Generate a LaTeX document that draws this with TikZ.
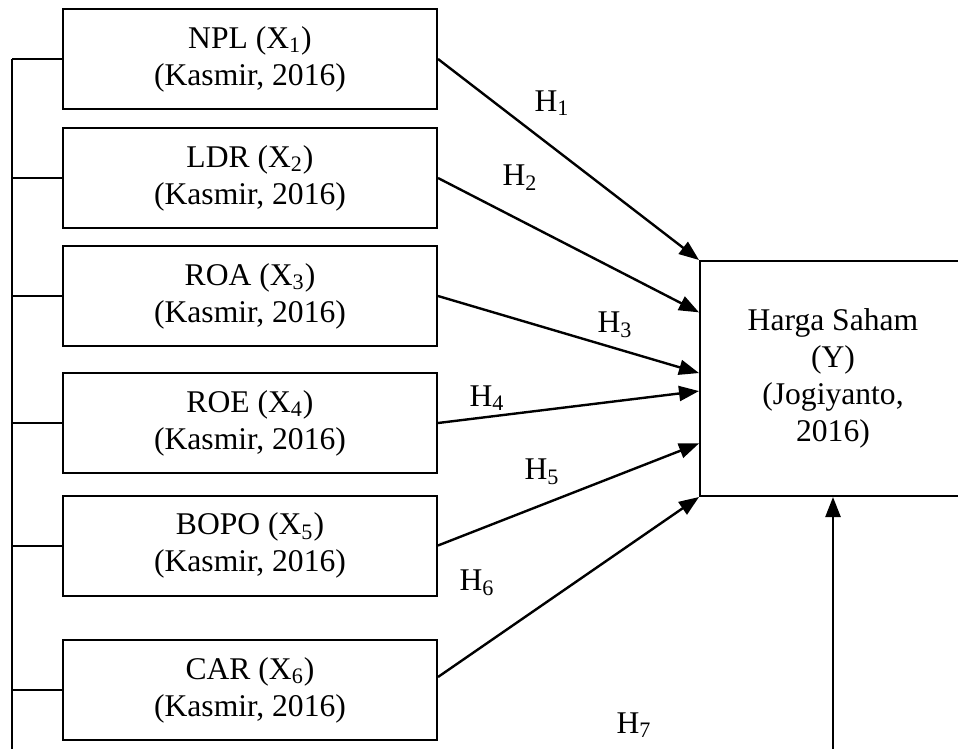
\documentclass[tikz,border=0pt]{standalone}
\usepackage{fontspec}
\setmainfont{Liberation Serif}
\usepackage{tikz}
\usetikzlibrary{arrows.meta,calc}

\tikzset{
	varbox/.style={draw, line width=1pt, minimum width=187pt, minimum height=50pt, inner sep=0pt, align=center, font=\fontsize{15.8}{18.5}\selectfont},
	ybox/.style={varbox, minimum width=133pt, minimum height=117.5pt},
	hyp/.style={line width=1.2pt, -{Triangle[length=10pt,width=7.5pt]}},
	hlabel/.style={inner sep=0pt, font=\fontsize{15.8}{18.5}\selectfont}
}

\begin{document}
\begin{tikzpicture}[x=0.5pt,y=-0.5pt]

\useasboundingbox (0,0) rectangle (958,749);
\clip (0,0) rectangle (958,749);

\node[varbox] (npl)  at (250,  59)   {NPL (X\textsubscript{1})\\(Kasmir, 2016)};
\node[varbox] (ldr)  at (250, 178)   {LDR (X\textsubscript{2})\\(Kasmir, 2016)};
\node[varbox] (roa)  at (250, 296)   {ROA (X\textsubscript{3})\\(Kasmir, 2016)};
\node[varbox] (roe)  at (250, 423)   {ROE (X\textsubscript{4})\\(Kasmir, 2016)};
\node[varbox] (bopo) at (250, 545.5) {BOPO (X\textsubscript{5})\\(Kasmir, 2016)};
\node[varbox] (car)  at (250, 690)   {CAR (X\textsubscript{6})\\(Kasmir, 2016)};

\node[ybox] (y) at (833, 378.5) {Harga Saham\\(Y)\\(Jogiyanto,\\2016)};

\coordinate (rail)     at (12,  59);
\coordinate (rail end) at (12, 760);
\coordinate (base)     at (833, 760);

\draw[line width=1pt] (rail) -- (rail end);
\foreach \b in {npl,ldr,roa,roe,bopo,car}{
	\draw[line width=1pt] (\b.west) -- (\b.west -| rail);
}

\draw[hyp] (npl.east)  -- (y.north west);
\draw[hyp] (ldr.east)  -- ($(y.north west)!0.221!(y.south west)$);
\draw[hyp] (roa.east)  -- ($(y.north west)!0.477!(y.south west)$);
\draw[hyp] (roe.east)  -- ($(y.north west)!0.553!(y.south west)$);
\draw[hyp] (bopo.east) -- ($(y.north west)!0.774!(y.south west)$);
\draw[hyp] ([yshift=6.5pt]car.east) -- (y.south west);
\draw[hyp] (base) -- (y.south);

\foreach \i/\x/\y in {1/552/103, 2/520/178, 3/615/325, 4/487/398, 5/542/472, 6/477/583, 7/634/725}{
	\node[hlabel] (h\i) at (\x,\y) {H\textsubscript{\i}};
}

\end{tikzpicture}
\end{document}
